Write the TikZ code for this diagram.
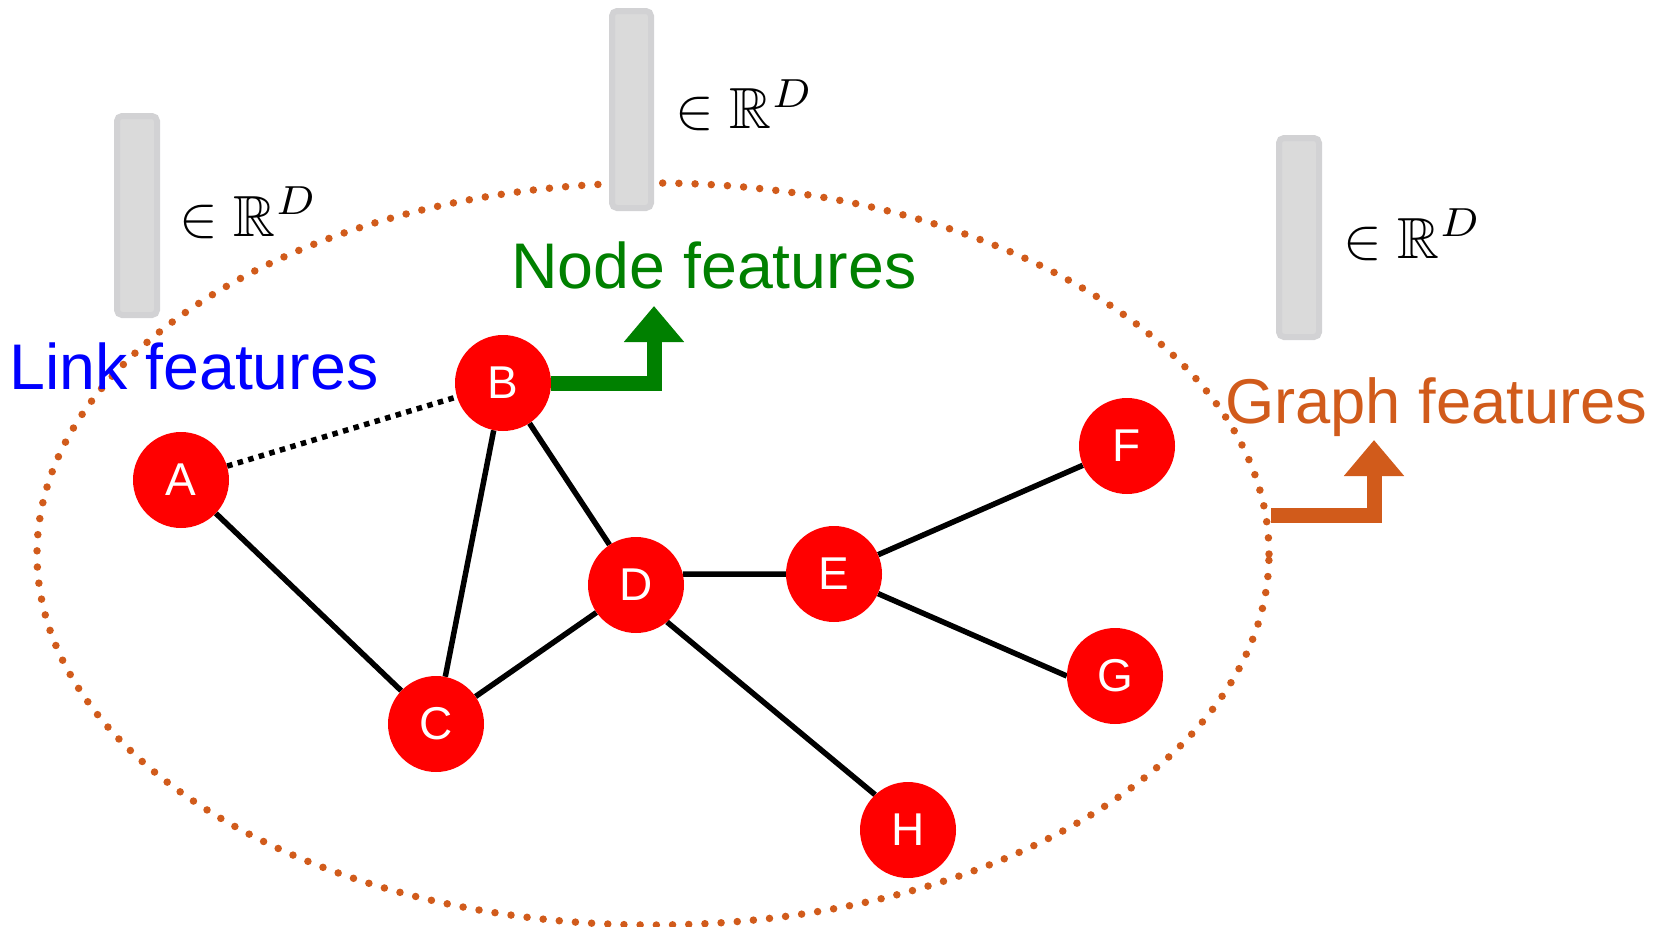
\documentclass[tikz,border=0pt]{standalone}
\usepackage{amssymb}
\usepackage{fontspec}
\setmainfont{Liberation Sans}
\usetikzlibrary{arrows.meta,backgrounds}
\definecolor{gorange}{RGB}{209,91,27}
\definecolor{ggreen}{RGB}{0,128,0}
\definecolor{barfill}{RGB}{218,218,218}
\definecolor{barline}{RGB}{210,210,212}
\tikzset{
  gnode/.style={circle, fill=red, draw=none, minimum size=96pt, inner sep=0pt,
    text=white, font=\fontsize{46}{46}\selectfont},
  gedge/.style={line width=5.5pt, black},
  linkedge/.style={line width=5.5pt, black, dash pattern=on 5.5pt off 5.5pt},
  hull/.style={gorange, line width=7.5pt, line cap=round, dash pattern=on 0pt off 16.2pt},
  featbar/.style={fill=barfill, draw=barline, line width=6pt, rounded corners=5pt},
  rdlabel/.style={anchor=base west, inner sep=0pt, scale=5.8},
  featlabel/.style={anchor=base west, inner sep=0pt, font=\fontsize{64.5}{70}\selectfont},
  bigarrow/.style={line width=15pt, -{Triangle[width=58pt,length=36pt]}},
}
\begin{document}
\begin{tikzpicture}[x=1pt,y=-1pt]
\useasboundingbox (0,0) rectangle (1656,926);
% graph nodes
\node[gnode] (A) at (181,480) {A};
\node[gnode] (B) at (503,383) {B};
\node[gnode] (C) at (436,724) {C};
\node[gnode] (D) at (636,585) {D};
\node[gnode] (E) at (834,574) {E};
\node[gnode] (F) at (1127,446) {F};
\node[gnode] (G) at (1115,676) {G};
\node[gnode] (H) at (908,830) {H};
\begin{pgfonlayer}{background}
  \draw[hull] (653,554) ellipse [x radius=616pt, y radius=371pt];
  \draw[linkedge] (A) -- (B);
  \draw[gedge] (A) -- (C);
  \draw[gedge] (B) -- (C);
  \draw[gedge] (B) -- (D);
  \draw[gedge] (C) -- (D);
  \draw[gedge] (D.13) -- (E.west);
  \draw[gedge] (D.-50) -- (H.133);
  \draw[gedge] (E) -- (F);
  \draw[gedge] (E.-24) -- (G.west);
\end{pgfonlayer}
% feature vectors
\draw[featbar] (117,116) rectangle (157,315);
\draw[featbar] (612,11) rectangle (651,208);
\draw[featbar] (1279,138) rectangle (1319,337);
\node[rdlabel] (r1) at (178,236) {$\in\mathbb{R}^D$};
\node[rdlabel] (r2) at (674,128.5) {$\in\mathbb{R}^D$};
\node[rdlabel] (r3) at (1342,258) {$\in\mathbb{R}^D$};
% labels
\node[featlabel, text=blue] (lf) at (9,389) {Link features};
\node[featlabel, text=ggreen] (nf) at (511,288) {Node features};
\node[featlabel, text=gorange, font=\fontsize{63.3}{70}\selectfont] (gf) at (1225,423) {Graph features};
% arrows
\coordinate (ntip) at (654,306);
\draw[bigarrow, ggreen] (B.east) -| (ntip);
\coordinate (gstart) at (1271,515.5);
\coordinate (gtip) at (1374,440);
\draw[bigarrow, gorange] (gstart) -| (gtip);
\end{tikzpicture}
\end{document}
